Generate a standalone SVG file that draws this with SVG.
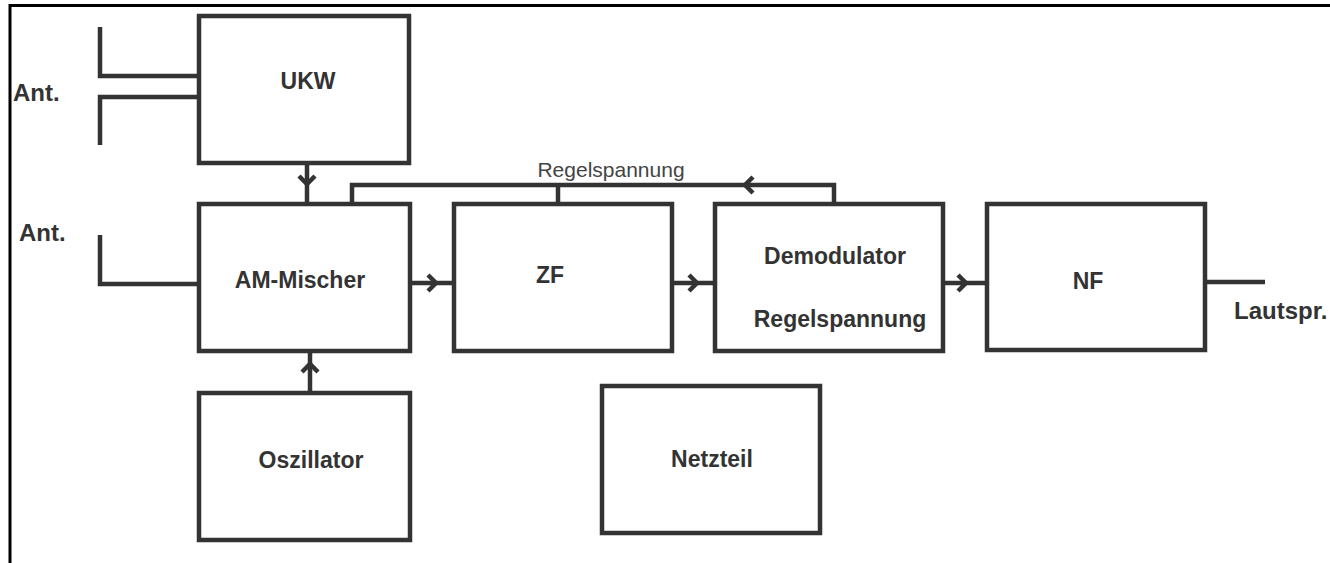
<svg xmlns="http://www.w3.org/2000/svg" width="1330" height="563" viewBox="0 0 1330 563">
<style>
.box{fill:#fff;stroke:#333;stroke-width:4.5}
.ln{fill:none;stroke:#333;stroke-width:4.5;stroke-linejoin:miter}
.arr{fill:none;stroke:#333;stroke-width:4.5;stroke-linejoin:miter}
.lbl{font-family:"Liberation Sans",Arial,sans-serif;font-weight:bold;font-size:23px;fill:#333;text-anchor:middle}
.side{font-family:"Liberation Sans",Arial,sans-serif;font-weight:bold;font-size:24px;fill:#333}
.reg{font-family:"Liberation Sans",Arial,sans-serif;font-size:21px;fill:#444;text-anchor:middle}
</style>
<rect width="1330" height="563" fill="#fff"/>
<path d="M10,563 V5.5 H1330" fill="none" stroke="#000" stroke-width="3"/>
<g id="connectors">
<path class="ln" d="M100,27 V76 H199"/>
<path class="ln" d="M199,97 H100 V145"/>
<path class="ln" d="M100,235 V284 H199"/>
<path class="ln" d="M307,163 V203"/>
<path class="arr" d="M299,176 L307,184 L315,176"/>
<path class="ln" d="M310,393 V351"/>
<path class="arr" d="M302,372 L310,364 L318,372"/>
<path class="ln" d="M410,283 H454"/>
<path class="arr" d="M428,275 L436,283 L428,291"/>
<path class="ln" d="M672,283 H715"/>
<path class="arr" d="M689,275 L697,283 L689,291"/>
<path class="ln" d="M943,283 H987"/>
<path class="arr" d="M958,275 L966,283 L958,291"/>
<path class="ln" d="M1205,282 H1265"/>
<path class="ln" d="M352,203 V185 H834 V204"/>
<path class="ln" d="M558,185 V203"/>
<path class="arr" d="M753,177 L745,185 L753,193"/>
<text class="reg" x="611" y="177">Regelspannung</text>
</g>
<g id="ant1"><text class="side" x="13" y="101">Ant.</text></g>
<g id="ant2"><text class="side" x="19" y="241">Ant.</text></g>
<g id="ukw"><rect class="box" x="199" y="16" width="210" height="147"/><text class="lbl" x="308" y="89">UKW</text></g>
<g id="am"><rect class="box" x="199" y="204" width="211" height="147"/><text class="lbl" x="300" y="288">AM-Mischer</text></g>
<g id="zf"><rect class="box" x="454" y="204" width="218" height="147"/><text class="lbl" x="550" y="283">ZF</text></g>
<g id="demod"><rect class="box" x="715" y="204" width="228" height="147"/><text class="lbl" x="835" y="264">Demodulator</text><text class="lbl" x="840" y="327">Regelspannung</text></g>
<g id="nf"><rect class="box" x="987" y="204" width="218" height="146"/><text class="lbl" x="1088" y="289">NF</text></g>
<g id="osz"><rect class="box" x="199" y="393" width="211" height="147"/><text class="lbl" x="311" y="468">Oszillator</text></g>
<g id="netz"><rect class="box" x="602" y="386" width="218" height="147"/><text class="lbl" x="712" y="467">Netzteil</text></g>
<g id="laut"><text class="side" x="1234" y="319">Lautspr.</text></g>
</svg>
